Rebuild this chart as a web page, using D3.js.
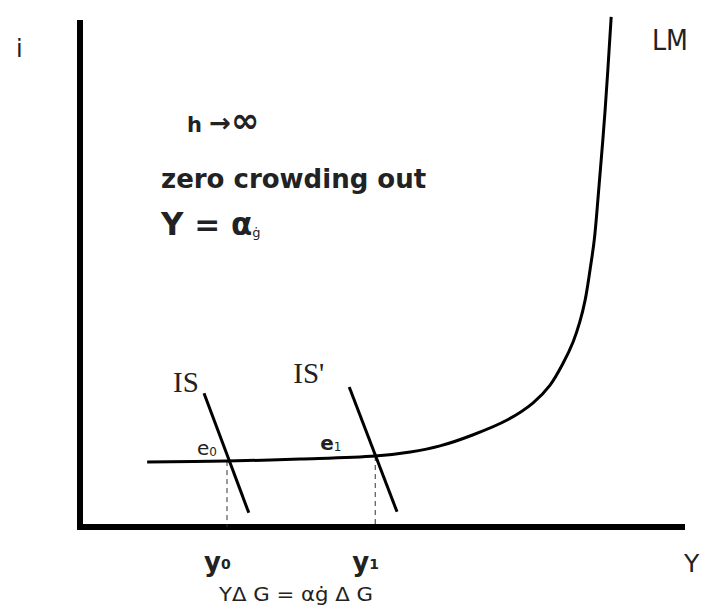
<!DOCTYPE html>
<html>
<head>
<meta charset="utf-8">
<script src="https://cdn.jsdelivr.net/npm/d3@7"></script>
<style>
  body { margin: 0; background: #fff; }
  svg text { fill: #222; }
</style>
</head>
<body>
<div id="chart"></div>
<script>
// IS-LM with a flat (liquidity trap) LM: zero crowding out

// LM curve points (income Y, interest i), both on 0-100 scale
const lmY = [11.1, 24.3, 36.4, 48.8, 54.6, 59.5, 65.0, 70.6, 74.9, 77.7, 79.8, 81.5, 82.6, 83.5, 84.3, 85.0, 85.6, 86.8, 87.8];
const lmI = [12.8, 13.0, 13.4, 14.0, 14.8, 16.0, 18.2, 21.1, 24.5, 28.0, 32.2, 36.5, 40.4, 44.8, 50.7, 56.6, 64.5, 82.3, 100.6];

// IS and IS' endpoints
const isY = [20.5, 27.9];
const isI = [26.4, 2.8];
const is2Y = [44.5, 52.4];
const is2I = [27.6, 3.0];

// equilibria
const eqNames = ["e0", "e1"];
const eqY = [24.3, 48.8];
const eqI = [13.0, 14.0];
const eqLabels = ["y0", "y1"];

const width = 704, height = 606;
const margin = { top: 20, right: 19, bottom: 79, left: 80 };
const sans = "'DejaVu Sans', sans-serif";

const svg = d3.select("#chart")
  .append("svg")
  .attr("width", width)
  .attr("height", height)
  .style("font-family", sans);

const x = d3.scaleLinear().domain([0, 100]).range([margin.left, width - margin.right]);
const y = d3.scaleLinear().domain([0, 100]).range([height - margin.bottom, margin.top]);

// axes
svg.append("line")
  .attr("x1", x(0)).attr("x2", x(0))
  .attr("y1", y(0) + 2).attr("y2", y(100))
  .attr("stroke", "#000").attr("stroke-width", 6);
svg.append("line")
  .attr("x1", x(0) - 3).attr("x2", x(100))
  .attr("y1", y(0)).attr("y2", y(0))
  .attr("stroke", "#000").attr("stroke-width", 6);

// dashed drop lines
svg.selectAll(".drop")
  .data(eqY)
  .enter().append("line")
  .attr("class", "drop")
  .attr("x1", d => x(d)).attr("x2", d => x(d))
  .attr("y1", (d, i) => y(eqI[i])).attr("y2", y(0))
  .attr("stroke", "#333").attr("stroke-width", 1)
  .attr("stroke-dasharray", "5,4");

// LM
const lmData = lmY.map((v, i) => [v, lmI[i]]);
const line = d3.line()
  .x(d => x(d[0]))
  .y(d => y(d[1]))
  .curve(d3.curveCatmullRom.alpha(0.5));
svg.append("path")
  .datum(lmData)
  .attr("d", line)
  .attr("fill", "none")
  .attr("stroke", "#000")
  .attr("stroke-width", 3);

// IS lines
[[isY, isI], [is2Y, is2I]].forEach(([a, b]) => {
  svg.append("line")
    .attr("x1", x(a[0])).attr("y1", y(b[0]))
    .attr("x2", x(a[1])).attr("y2", y(b[1]))
    .attr("stroke", "#000").attr("stroke-width", 3);
});

// axis labels
svg.append("text").attr("x", 16).attr("y", 57).attr("font-size", 24).text("i");
svg.append("text").attr("x", 652).attr("y", 50).attr("font-size", 28)
  .attr("textLength", 36).attr("lengthAdjust", "spacingAndGlyphs").text("LM");
svg.append("text").attr("x", 684).attr("y", 572).attr("font-size", 25).text("Y");

svg.append("text")
  .attr("x", x(isY[0]) - 31).attr("y", y(isI[0]) - 1)
  .style("font-family", "'Liberation Serif', serif").attr("font-size", 29)
  .text("IS");
svg.append("text")
  .attr("x", x(is2Y[0]) - 56).attr("y", y(is2I[0]) - 4)
  .style("font-family", "'Liberation Serif', serif").attr("font-size", 29)
  .text("IS'");

// equilibrium labels
svg.selectAll(".eq")
  .data(eqNames)
  .enter().append("text")
  .attr("x", (d, i) => x(eqY[i]) - (i ? 55 : 30))
  .attr("y", (d, i) => y(eqI[i]) - 6)
  .attr("font-size", 20)
  .each(function(d, i) {
    const t = d3.select(this);
    t.append("tspan").text("e").attr("font-weight", i ? "bold" : "normal");
    t.append("tspan").text(d.slice(1)).attr("font-size", 12).attr("dy", 1);
  });

// y0, y1
svg.selectAll(".ylab")
  .data(eqLabels)
  .enter().append("text")
  .attr("x", (d, i) => x(eqY[i]) - 23)
  .attr("y", 571)
  .attr("font-size", 26)
  .attr("font-weight", "bold")
  .each(function(d) {
    const t = d3.select(this);
    t.append("tspan").text("y");
    t.append("tspan").text(d.slice(1)).attr("font-size", 14).attr("dy", -2);
  });

svg.append("text")
  .attr("x", 219).attr("y", 601)
  .attr("font-size", 20)
  .attr("textLength", 154)
  .attr("lengthAdjust", "spacingAndGlyphs")
  .text("ΥΔ G = αġ Δ G");

// annotations
const h = svg.append("text")
  .attr("x", 187).attr("y", 132)
  .attr("font-size", 21).attr("font-weight", "bold");
h.append("tspan").text("h ");
h.append("tspan").text("→").attr("font-size", 26);
h.append("tspan").text("∞").attr("font-size", 34);

svg.append("text")
  .attr("x", 161).attr("y", 188)
  .attr("font-size", 26).attr("font-weight", "bold")
  .text("zero crowding out");

const eq = svg.append("text")
  .attr("x", 161).attr("y", 235)
  .attr("font-size", 31).attr("font-weight", "bold");
eq.append("tspan").text("Υ = α");
eq.append("tspan").text("ġ").attr("font-size", 13).attr("font-weight", "normal").attr("dy", 2);
</script>
</body>
</html>
